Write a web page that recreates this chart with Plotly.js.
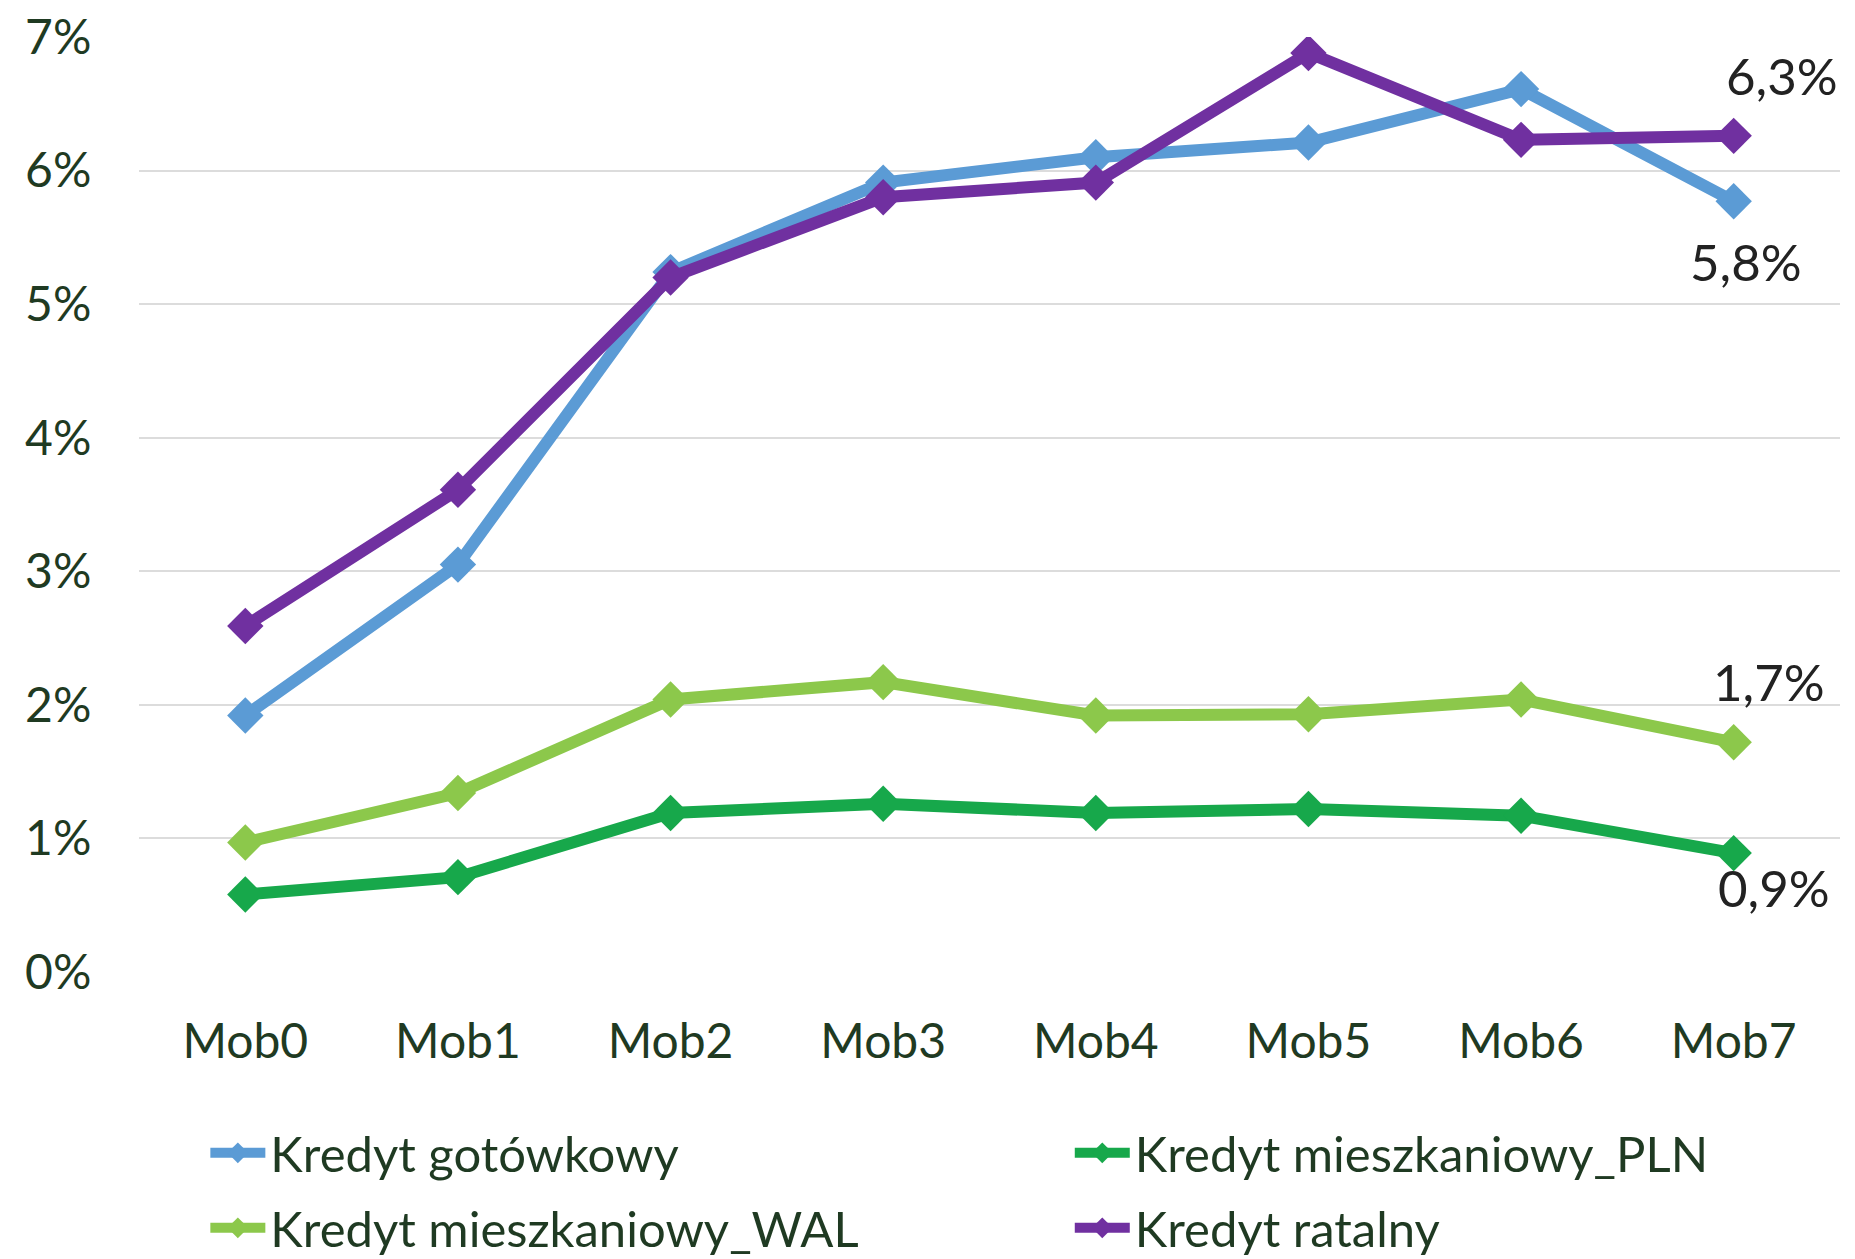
<!DOCTYPE html>
<html>
<head>
<meta charset="utf-8">
<script src="https://cdn.plot.ly/plotly-3.0.1.min.js"></script>
<style>
html,body{margin:0;padding:0;background:#fff;}
#chart{width:1855px;height:1259px;}
</style>
</head>
<body>
<div id="chart"></div>
<script>
const categories = ["Mob0","Mob1","Mob2","Mob3","Mob4","Mob5","Mob6","Mob7"];
const seriesNames = ["Kredyt gotówkowy","Kredyt mieszkaniowy_PLN","Kredyt mieszkaniowy_WAL","Kredyt ratalny"];
const gotowkowy = [1.92, 3.05, 5.24, 5.91, 6.10, 6.21, 6.61, 5.77];
const mieszkaniowyPLN = [0.58, 0.71, 1.19, 1.26, 1.19, 1.22, 1.17, 0.89];
const mieszkaniowyWAL = [0.97, 1.34, 2.04, 2.17, 1.92, 1.93, 2.04, 1.72];
const ratalny = [2.59, 3.61, 5.20, 5.80, 5.91, 6.88, 6.23, 6.26];
const yTickVals = [0,1,2,3,4,5,6,7];
const yTickText = ["0%","1%","2%","3%","4%","5%","6%","7%"];

const colors = ["#5B9BD5","#17A84B","#8CC84B","#7030A0"];
const seriesData = [gotowkowy, mieszkaniowyPLN, mieszkaniowyWAL, ratalny];
const legendIds = ["legend","legend2","legend3","legend4"];
const FONT = "Lato, 'Open Sans', sans-serif";
const TXT = "#1f3a22";

const traces = seriesData.map((vals, i) => ({
  type: "scatter",
  mode: "lines+markers",
  x: categories,
  y: vals,
  name: seriesNames[i],
  legend: legendIds[i],
  line: {color: colors[i], width: 12},
  marker: {symbol: "diamond", size: 28, color: colors[i]},
  hoverinfo: "skip"
}));

const fmt = v => v.toFixed(1).replace(".", ",") + "%";
const last = categories[categories.length - 1];
const labelOffsets = [
  {xs: 12, ys: -60},   // gotówkowy (below)
  {xs: 40, ys: -34},   // PLN (below)
  {xs: 35, ys: 61},    // WAL (above)
  {xs: 48, ys: 60}     // ratalny (above)
];
const annotations = seriesData.map((vals, i) => ({
  x: last, y: vals[vals.length - 1], xref: "x", yref: "y",
  text: fmt(vals[vals.length - 1]),
  showarrow: false,
  xshift: labelOffsets[i].xs, yshift: labelOffsets[i].ys,
  font: {family: FONT, size: 51, color: "#222"}
}));

// legend positions (container fractions): two columns, two rows
const legendPos = [
  {x: 0.1107, y: 1 - 1153 / 1259},
  {x: 0.5767, y: 1 - 1153 / 1259},
  {x: 0.1107, y: 1 - 1228 / 1259},
  {x: 0.5767, y: 1 - 1228 / 1259}
];
const layout = {
  width: 1855, height: 1259,
  paper_bgcolor: "#fff", plot_bgcolor: "#fff",
  margin: {l: 139, r: 15, t: 37, b: 287},
  showlegend: true,
  xaxis: {
    type: "category",
    categoryarray: categories,
    range: [-0.5, 7.5],
    showgrid: false, zeroline: false, showline: false,
    ticks: "outside", ticklen: 27, tickcolor: "rgba(0,0,0,0)",
    tickfont: {family: FONT, size: 48, color: TXT}
  },
  yaxis: {
    range: [0, 7],
    tickvals: yTickVals, ticktext: yTickText,
    showgrid: true, gridcolor: "#dcdcdc", gridwidth: 2,
    zeroline: false, showline: false,
    ticks: "outside", ticklen: 37, tickcolor: "rgba(0,0,0,0)",
    tickfont: {family: FONT, size: 48, color: TXT}
  },
  annotations: annotations
};
legendIds.forEach((id, i) => {
  layout[id] = {
    orientation: "h",
    xref: "container", yref: "container",
    x: legendPos[i].x, xanchor: "left",
    y: legendPos[i].y, yanchor: "middle",
    itemwidth: 55,
    font: {family: FONT, size: 49, color: TXT},
    bgcolor: "rgba(0,0,0,0)",
    borderwidth: 0
  };
});

Plotly.newPlot("chart", traces, layout, {displayModeBar: false, staticPlot: true});
</script>
</body>
</html>
